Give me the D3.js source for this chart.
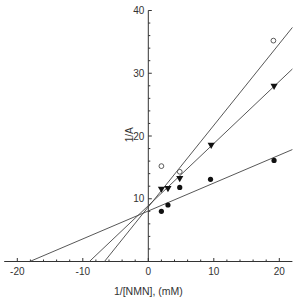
<!DOCTYPE html>
<html>
<head>
<meta charset="utf-8">
<script src="https://cdn.jsdelivr.net/npm/d3@7"></script>
<style>
  body { margin: 0; background: #fff; }
  text { font-family: "Liberation Sans", Arial, sans-serif; fill: #333; }
</style>
</head>
<body>
<div id="chart"></div>
<script>
/* Lineweaver-Burk plot */

const xTicks = [-20, -10, 0, 10, 20];
const yTicks = [10, 20, 30, 40];

// fitted lines: slope and intercept
const lineSlopes = [0.445, 0.99, 1.3];
const lineIntercepts = [8.05, 8.9, 8.7];

// series points
const filledX = [2, 3, 4.8, 9.5, 19.2];
const filledY = [8.0, 9.0, 11.8, 13.1, 16.1];
const triX = [2, 3, 4.8, 9.6, 19.2];
const triY = [11.6, 11.7, 13.3, 18.6, 28.0];
const openX = [2, 4.8, 19.1];
const openY = [15.2, 14.3, 35.2];

const width = 296,
  height = 299;

const svg = d3.select("#chart")
  .append("svg")
  .attr("width", width)
  .attr("height", height);

const x = d3.scaleLinear()
  .domain([-22, 22])
  .range([4.2, 292.4]);

const y = d3.scaleLinear()
  .domain([0, 40])
  .range([261.5, 10.5]);

// x axis
const xAxis = svg.append("g")
  .attr("transform", `translate(0,${y(0)})`);
xAxis.append("line")
  .attr("x1", x(-22)).attr("x2", x(22))
  .attr("stroke", "#333");
xAxis.selectAll(".minor")
  .data(d3.range(-20, 22, 2))
  .join("line")
  .attr("x1", d => x(d)).attr("x2", d => x(d))
  .attr("y1", 0)
  .attr("y2", d => d % 10 === 0 ? -3.5 : -2)
  .attr("stroke", "#333");
xAxis.selectAll("text")
  .data(xTicks)
  .join("text")
  .attr("x", d => x(d))
  .attr("y", 13)
  .attr("text-anchor", "middle")
  .attr("font-size", 10)
  .text(d => d);

// y axis
const yAxis = svg.append("g")
  .attr("transform", `translate(${x(0)},0)`);
yAxis.append("line")
  .attr("y1", y(0)).attr("y2", y(40))
  .attr("stroke", "#333");
yAxis.selectAll(".minor")
  .data(d3.range(2, 41, 2))
  .join("line")
  .attr("y1", d => y(d)).attr("y2", d => y(d))
  .attr("x1", 0)
  .attr("x2", d => d % 10 === 0 ? 3.5 : 2)
  .attr("stroke", "#333");
yAxis.selectAll("text")
  .data(yTicks)
  .join("text")
  .attr("x", -4)
  .attr("y", d => y(d) + 3.5)
  .attr("text-anchor", "end")
  .attr("font-size", 10)
  .text(d => d);

// axis titles
svg.append("text")
  .attr("transform", `translate(133,${y(20.2)}) rotate(-90)`)
  .attr("text-anchor", "middle")
  .attr("font-size", 10)
  .text("1/A");

svg.append("text")
  .attr("x", x(0))
  .attr("y", 294.5)
  .attr("text-anchor", "middle")
  .attr("font-size", 10.5)
  .text("1/[NMN], (mM)");

// fitted lines from x-intercept to right edge
const lines = lineSlopes.map((m, i) => {
  const b = lineIntercepts[i];
  return [[-b / m, 0], [22, b + m * 22]];
});

svg.append("g")
  .selectAll("line")
  .data(lines)
  .join("line")
  .attr("x1", d => x(d[0][0]))
  .attr("y1", d => y(d[0][1]))
  .attr("x2", d => x(d[1][0]))
  .attr("y2", d => y(d[1][1]))
  .attr("stroke", "#444")
  .attr("stroke-width", 0.9);

// points
svg.append("g")
  .selectAll("circle")
  .data(filledX.map((d, i) => [d, filledY[i]]))
  .join("circle")
  .attr("cx", d => x(d[0]))
  .attr("cy", d => y(d[1]))
  .attr("r", 2.6)
  .attr("fill", "#111");

const tri = d3.symbol().type(d3.symbolTriangle).size(22);
svg.append("g")
  .selectAll("path")
  .data(triX.map((d, i) => [d, triY[i]]))
  .join("path")
  .attr("d", tri)
  .attr("transform", d => `translate(${x(d[0])},${y(d[1])}) rotate(180)`)
  .attr("fill", "#111");

svg.append("g")
  .selectAll("circle")
  .data(openX.map((d, i) => [d, openY[i]]))
  .join("circle")
  .attr("cx", d => x(d[0]))
  .attr("cy", d => y(d[1]))
  .attr("r", 2.4)
  .attr("fill", "#fff")
  .attr("stroke", "#333")
  .attr("stroke-width", 0.8);
</script>
</body>
</html>
